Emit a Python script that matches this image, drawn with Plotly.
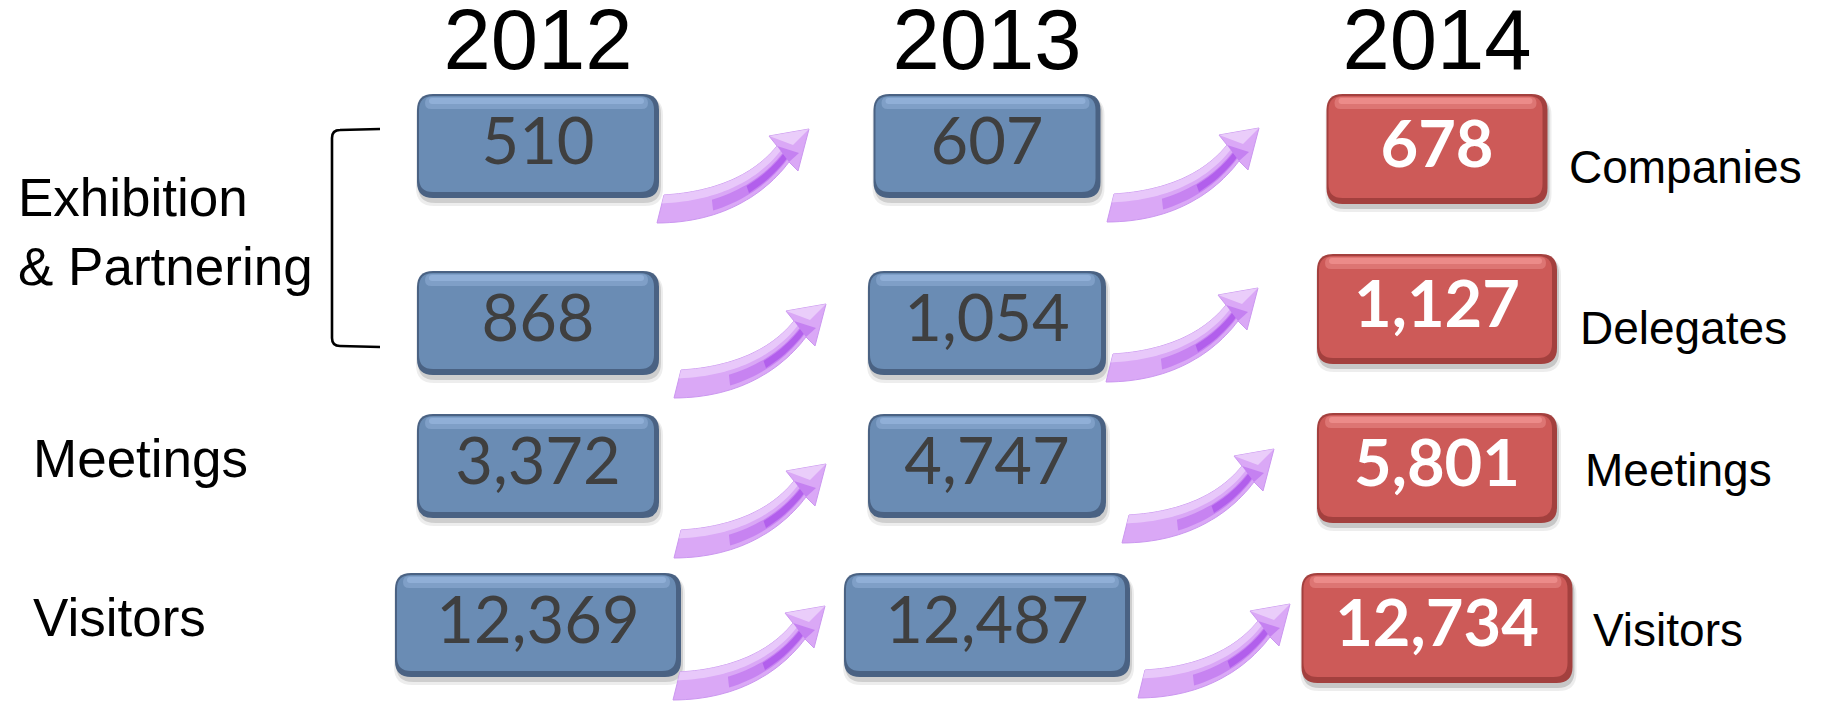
import numpy as np
import plotly.graph_objects as go

# ---------------- data ----------------
YEARS = ["2012", "2013", "2014"]
METRICS = ["Companies", "Delegates", "Meetings", "Visitors"]
V2012 = [510, 868, 3372, 12369]
V2013 = [607, 1054, 4747, 12487]
V2014 = [678, 1127, 5801, 12734]
GROUPS = ["Exhibition<br>& Partnering", "Meetings", "Visitors"]

# ---------------- layout constants ----------------
W, H = 1832, 701
COL_X = [538, 987, 1437]
YEAR_Y = 48
ROW_Y = [[146, 146, 149], [323, 323, 309], [466, 466, 468], [625, 625, 628]]
BOX_W = [[242, 227, 221], [242, 238, 240], [242, 238, 240], [286, 286, 271]]
BOX_H = [104, 104, 110]
ARROWS = [[(657, 223), (1107, 222)], [(674, 398), (1106, 382)],
          [(674, 558), (1122, 543)], [(673, 700), (1138, 698)]]
GROUP_POS = [(16, 232), (31, 458), (31, 617)]
RIGHT_X = [1567, 1578, 1583, 1591]
RIGHT_Y = [167, 328, 470, 630]

BLUE = dict(edge="#4A6283", body="#6A8CB4", hi="#93B2D9", shadow="rgba(0,0,0,0.13)")
RED = dict(edge="#A3403E", body="#CD5A58", hi="#EE8F8D", shadow="rgba(0,0,0,0.16)")

fig = go.Figure()
shapes = []


def rr(x0, y0, x1, y1, r):
    return (f"M{x0+r},{y0} L{x1-r},{y0} Q{x1},{y0} {x1},{y0+r} L{x1},{y1-r} "
            f"Q{x1},{y1} {x1-r},{y1} L{x0+r},{y1} Q{x0},{y1} {x0},{y1-r} "
            f"L{x0},{y0+r} Q{x0},{y0} {x0+r},{y0} Z")


def add_path(path, fill, line=None, lw=0, opacity=1.0):
    shapes.append(dict(type="path", path=path, xref="x", yref="y", layer="below",
                       fillcolor=fill, opacity=opacity,
                       line=dict(color=line or fill, width=lw)))


def draw_box(cx, cy, w, h, pal):
    x0, x1 = cx - w / 2, cx + w / 2
    y0, y1 = cy - h / 2, cy + h / 2
    add_path(rr(x0 - 1, y0 + 3, x1 + 4, y1 + 8, 18), "rgba(0,0,0,0.07)")
    add_path(rr(x0 + 1, y0 + 3, x1 + 2, y1 + 5, 17), pal["shadow"])
    add_path(rr(x0, y0, x1, y1, 16), pal["edge"])
    add_path(rr(x0 + 2, y0 + 2, x1 - 5, y1 - 6, 14), pal["body"])
    add_path(rr(x0 + 8, y0 + 3, x1 - 11, y0 + 15, 6), pal["hi"], opacity=0.5)
    add_path(rr(x0 + 12, y0 + 4, x1 - 15, y0 + 10, 3), pal["hi"], opacity=0.85)


def bez(p0, p1, p2, p3, n=30):
    t = np.linspace(0, 1, n)[:, None]
    p0, p1, p2, p3 = map(np.array, (p0, p1, p2, p3))
    return (1 - t) ** 3 * p0 + 3 * (1 - t) ** 2 * t * p1 + 3 * (1 - t) * t ** 2 * p2 + t ** 3 * p3


def poly(pts):
    return "M" + " L".join(f"{x:.1f},{y:.1f}" for x, y in pts) + " Z"


def draw_arrow(ax, ay):
    off = np.array([ax, ay])
    lower = bez((0, 0), (60, 0), (105, -25), (132, -61)) + off
    upper = bez((7, -28), (55, -31), (95, -46), (120, -77)) + off
    barb_r = np.array([141, -52]) + off
    tip = np.array([152, -94]) + off
    barb_l = np.array([112, -87]) + off
    outline = list(lower) + [barb_r, tip, barb_l] + list(upper[::-1])
    add_path(poly(outline), "#DAA8F6", line="#CB97F0", lw=1)
    band_hi = list(upper) + list((upper + 0.3 * (lower - upper))[::-1])
    add_path(poly(band_hi), "#EED6FC", opacity=0.7)
    k = 10
    a = upper[k:] + 0.45 * (lower[k:] - upper[k:])
    b = upper[k:] + 0.85 * (lower[k:] - upper[k:])
    add_path(poly(list(a) + list(b[::-1])), "#A94CEB", opacity=0.4)
    k2 = 18
    a2 = upper[k2:] + 0.5 * (lower[k2:] - upper[k2:])
    b2 = upper[k2:] + 0.8 * (lower[k2:] - upper[k2:])
    add_path(poly(list(a2) + list(b2[::-1])), "#9A33E6", opacity=0.45)
    add_path(poly([upper[-1], lower[-1], np.array([142, -70]) + off]), "#A545EA", opacity=0.4)
    add_path(poly([barb_l, tip, np.array([136, -78]) + off]), "#F1DDFC", opacity=0.7)


values = [V2012, V2013, V2014]
for r in range(4):
    for c in range(3):
        pal = RED if c == 2 else BLUE
        draw_box(COL_X[c], ROW_Y[r][c], BOX_W[r][c], BOX_H[c], pal)

for r in range(4):
    for (ax, ay) in ARROWS[r]:
        draw_arrow(ax, ay)

for c in range(3):
    xs = [COL_X[c]] * 4
    ys = [ROW_Y[r][c] + 2 for r in range(4)]
    txt = [f"{v:,}" for v in values[c]]
    fig.add_trace(go.Scatter(
        x=xs, y=ys, mode="text", text=txt, textposition="middle center", cliponaxis=False,
        textfont=dict(family="Lato", size=65,
                      color="#FFFFFF" if c == 2 else "#3F3F3F",
                      weight="bold" if c == 2 else "normal"),
        hoverinfo="skip", showlegend=False))

fig.add_trace(go.Scatter(
    x=COL_X, y=[YEAR_Y] * 3, mode="text", text=YEARS, textposition="middle center",
    cliponaxis=False,
    textfont=dict(family="Liberation Sans, Arial", size=85, color="#000000"),
    hoverinfo="skip", showlegend=False))

for i, m in enumerate(METRICS):
    fig.add_annotation(x=RIGHT_X[i], y=RIGHT_Y[i], text=m, showarrow=False,
                       xanchor="left", yanchor="middle", xref="x", yref="y",
                       font=dict(family="Liberation Sans, Arial", size=46, color="#000000"))

for (gx, gy), g in zip(GROUP_POS, GROUPS):
    fig.add_annotation(x=gx, y=gy, text=g, showarrow=False, align="left",
                       xanchor="left", yanchor="middle", xref="x", yref="y",
                       font=dict(family="Liberation Sans, Arial", size=53, color="#000000"))

shapes.append(dict(type="path", xref="x", yref="y", layer="below",
                   path="M380,129 L340,130 Q332,130 332,138 L332,338 Q332,346 340,346 L380,347",
                   line=dict(color="#000000", width=2.6)))

fig.update_layout(
    width=W, height=H, margin=dict(l=0, r=0, t=0, b=0, pad=0),
    paper_bgcolor="white", plot_bgcolor="white", shapes=shapes,
    xaxis=dict(range=[0, W], visible=False, fixedrange=True),
    yaxis=dict(range=[H, 0], visible=False, fixedrange=True),
)
fig.write_html("out.html", config={"displayModeBar": False},
               post_script="document.body.style.margin='0px';document.body.style.overflow='hidden';")
